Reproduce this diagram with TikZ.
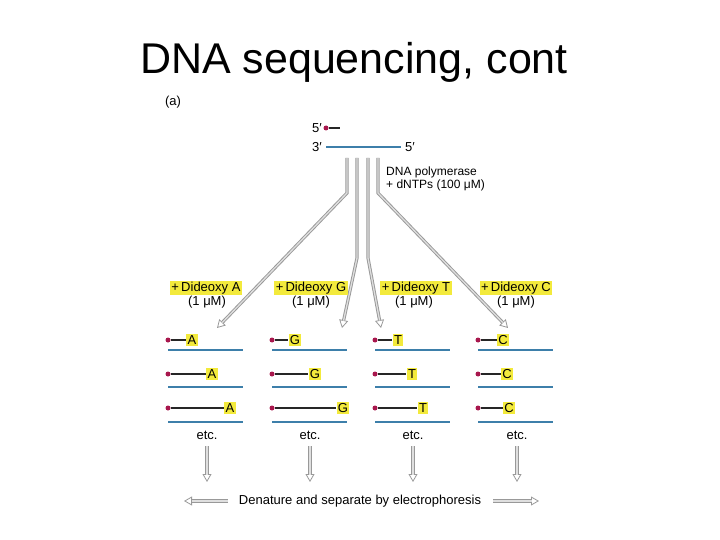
\documentclass[tikz,border=0pt]{standalone}
\usepackage{fontspec}
\setmainfont{Liberation Sans}
\usetikzlibrary{arrows.meta}
\definecolor{strand}{HTML}{3D7FAA}
\definecolor{dotc}{HTML}{A8174D}
\definecolor{hl}{HTML}{F3EA3C}
\begin{document}
\begin{tikzpicture}[x=1pt,y=-1pt,
 lbl/.style={font=\fontsize{13}{15}\selectfont, inner sep=0pt},
 tag/.style={fill=hl, inner sep=1.4pt, font=\fontsize{13}{15}\selectfont},
 bead/.style={circle, fill=dotc, inner sep=0pt, minimum size=5pt},
 strandl/.style={draw=strand, line width=1.3pt},
 frag/.style={draw=black!85, line width=1.4pt},
 dbl/.style={draw=gray!80, line width=3.2pt, line join=miter,
   -{Triangle[open, length=8pt, width=9pt, line width=0.8pt]},
   postaction={draw=gray!25, line width=1.3pt, -, shorten >=7.5pt}},
]
\useasboundingbox (0,0) rectangle (720,540);
% title
\node[anchor=base, inner sep=0pt, font=\fontsize{43}{48}\selectfont] (title) at (354,74) {DNA sequencing, cont};
\node[lbl] (alab) at (173,102) {(a)};
% template and primer
\node[lbl] (p5) at (317,128) {5′};
\node[bead] (pd) at (326,128) {};
\coordinate (pe) at (340,128);
\draw[frag] (pd) -- (pe);
\node[lbl] (t3) at (317,147) {3′};
\node[lbl] (t5) at (410,147) {5′};
\coordinate (ts) at (326,147);
\coordinate (te) at (401,147);
\draw[strandl] (ts) -- (te);
\node[lbl, anchor=west, align=left, font=\fontsize{12}{13}\selectfont] (poly) at (386,179) {DNA polymerase\\+ dNTPs (100 μM)};
% arrows from template
\coordinate (s1) at (347,158); \coordinate (b1) at (347,193); \coordinate (e1) at (217,328);
\coordinate (s2) at (357,158); \coordinate (b2) at (357,258); \coordinate (e2) at (342,328);
\coordinate (s3) at (368,158); \coordinate (b3) at (368,258); \coordinate (e3) at (381,328);
\coordinate (s4) at (378,158); \coordinate (b4) at (378,193); \coordinate (e4) at (508,328);
\draw[dbl] (s1) -- (b1) -- (e1);
\draw[dbl] (s2) -- (b2) -- (e2);
\draw[dbl] (s3) -- (b3) -- (e3);
\draw[dbl] (s4) -- (b4) -- (e4);
% dideoxy labels
\node[tag] (ddA) at (206,288) {+\,Dideoxy A};
\node[tag] (ddG) at (311,288) {+\,Dideoxy G};
\node[tag] (ddT) at (416,288) {+\,Dideoxy T};
\node[tag] (ddC) at (516,288) {+\,Dideoxy C};
\node[lbl] (cA) at (207,302) {(1 μM)};
\node[lbl] (cG) at (311,302) {(1 μM)};
\node[lbl] (cT) at (414,302) {(1 μM)};
\node[lbl] (cC) at (516,302) {(1 μM)};
% fragments
\foreach \nm/\dx/\ex/\la/\lb/\lc in {A/168/243/192/212/230, G/272/347/295/315/343, T/375/450/398/412/423, C/478/553/503/507/509}{
  \node[bead] (\nm d1) at (\dx,340) {};
  \node[tag] (\nm l1) at (\la,340) {\nm};
  \draw[frag] (\nm d1) -- (\nm l1.west);
  \coordinate (\nm s1) at (\dx,350); \coordinate (\nm f1) at (\ex,350);
  \draw[strandl] (\nm s1) -- (\nm f1);
  \node[bead] (\nm d2) at (\dx,374) {};
  \node[tag] (\nm l2) at (\lb,374) {\nm};
  \draw[frag] (\nm d2) -- (\nm l2.west);
  \coordinate (\nm s2) at (\dx,387); \coordinate (\nm f2) at (\ex,387);
  \draw[strandl] (\nm s2) -- (\nm f2);
  \node[bead] (\nm d3) at (\dx,408) {};
  \node[tag] (\nm l3) at (\lc,408) {\nm};
  \draw[frag] (\nm d3) -- (\nm l3.west);
  \coordinate (\nm s3) at (\dx,422); \coordinate (\nm f3) at (\ex,422);
  \draw[strandl] (\nm s3) -- (\nm f3);
}
% etc and down arrows
\foreach \nm/\xx in {A/207, G/310, T/413, C/517}{
  \node[lbl] (etc\nm) at (\xx,435) {etc.};
  \coordinate (da\nm) at (\xx,446);
  \coordinate (db\nm) at (\xx,482);
  \draw[dbl] (da\nm) -- (db\nm);
}
% bottom
\node[lbl] (den) at (360,501) {Denature and separate by electrophoresis};
\coordinate (la) at (228,501); \coordinate (lb) at (184,501);
\coordinate (ra) at (493,501); \coordinate (rb) at (539,501);
\draw[dbl] (la) -- (lb);
\draw[dbl] (ra) -- (rb);
\end{tikzpicture}
\end{document}
